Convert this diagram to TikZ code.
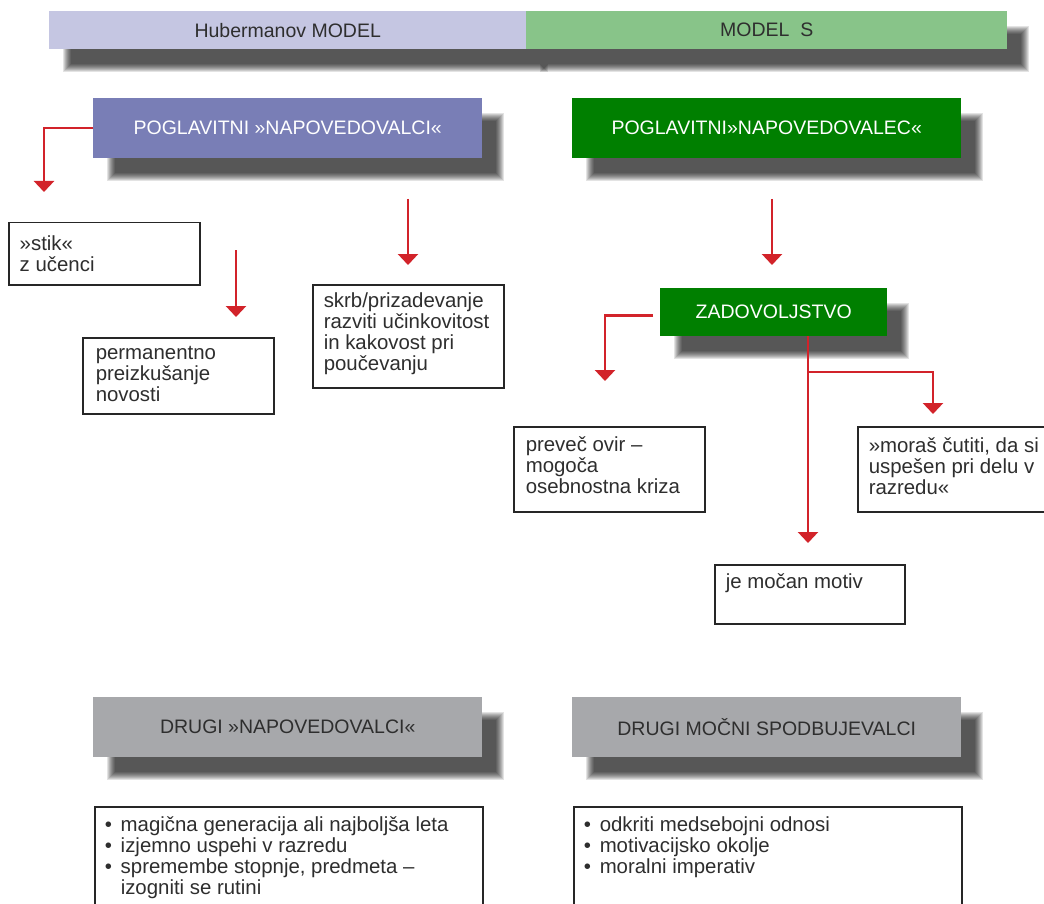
\documentclass[tikz,border=0pt]{standalone}
\usepackage{fontspec}
\setmainfont{Liberation Sans}
\usetikzlibrary{arrows.meta,calc}
\definecolor{lav}{HTML}{C5C6E2}
\definecolor{grn}{HTML}{88C489}
\definecolor{blu}{HTML}{797EB6}
\definecolor{dgr}{HTML}{007F00}
\definecolor{gry}{HTML}{A7A8AB}
\definecolor{arr}{HTML}{D2232A}
\definecolor{txt}{HTML}{2E2E2E}
\definecolor{boxc}{HTML}{262626}
\newcommand\bodyfont{\fontsize{20.4pt}{20.8pt}\selectfont}
\newcommand\hdrfont{\fontsize{19.5pt}{22pt}\selectfont}
\newcommand\bx[3]{\parbox[c][#2][t]{#1}{\raggedright\rule{0pt}{16pt}#3}}
\newcommand\bul{\makebox[16pt][l]{\textbullet}}
\pgfdeclarelayer{bg}
\pgfsetlayers{bg,main}
\newcommand\shadowof[1]{%
  \begin{pgfonlayer}{bg}
  \foreach \k in {0,...,8}{%
    \fill[black,opacity=0.11] ($(#1.north west)+(14+\k,15+\k)$) rectangle ($(#1.south east)+(22-\k,23-\k)$);}
  \end{pgfonlayer}}
\begin{document}
\begin{tikzpicture}[x=1pt,y=-1pt,
  hdr/.style={anchor=north west,inner sep=0pt,font=\hdrfont},
  wbox/.style={draw=boxc,line width=1.5pt,fill=white,anchor=north west,inner xsep=11pt,text=txt,font=\bodyfont},
  arw/.style={draw=arr,line width=2.6pt,-{Triangle[width=20pt,length=11pt]}}]
\useasboundingbox (0,0) rectangle (1044,904);
\begin{pgfonlayer}{bg}
\fill[white] (0,0) rectangle (1044,904);
\end{pgfonlayer}

% top banner
\node[hdr,fill=lav,text=txt,minimum width=477pt,minimum height=38pt] (hub) at (49,11) {Hubermanov MODEL};
\node[hdr,fill=grn,text=txt,minimum width=481pt,minimum height=38pt] (mods) at (526,11) {MODEL\ \ S};

% headers
\node[hdr,fill=blu,text=white,minimum width=389pt,minimum height=60pt] (pn) at (93,98) {POGLAVITNI »NAPOVEDOVALCI«};
\node[hdr,fill=dgr,text=white,minimum width=389pt,minimum height=60pt] (pg) at (572,98) {POGLAVITNI»NAPOVEDOVALEC«};
\node[hdr,fill=dgr,text=white,minimum width=227pt,minimum height=48pt] (zad) at (660,288) {ZADOVOLJSTVO};
\node[hdr,fill=gry,text=txt,minimum width=389pt,minimum height=60pt] (dn) at (93,697) {DRUGI »NAPOVEDOVALCI«};
\node[hdr,fill=gry,text=txt,minimum width=389pt,minimum height=60pt] (dm) at (572,697) {DRUGI MOČNI SPODBUJEVALCI};

\shadowof{hub}\shadowof{mods}\shadowof{pn}\shadowof{pg}\shadowof{zad}\shadowof{dn}\shadowof{dm}

% white boxes
\node[wbox,inner ysep=12pt] (stik) at (8,222) {\bx{169pt}{38pt}{»stik«\\z učenci}};
\node[wbox,inner xsep=13pt,inner ysep=6pt] (perm) at (82,337) {\bx{165pt}{64pt}{permanentno\\preizkušanje\\novosti}};
\node[wbox,inner ysep=7pt] (skrb) at (312,284) {\bx{169pt}{89pt}{skrb/prizadevanje\\razviti učinkovitost\\in kakovost pri\\poučevanju}};
\node[wbox,inner xsep=12pt,inner ysep=9pt] (prev) at (513,426) {\bx{167pt}{67pt}{preveč ovir –\\mogoča\\osebnostna kriza}};
\node[wbox,inner ysep=10pt] (moras) at (857,426) {\bx{178pt}{65pt}{»moraš čutiti, da si\\uspešen pri delu v\\razredu«}};
\node[wbox,inner ysep=8pt] (mocan) at (714,564) {\bx{168pt}{43pt}{je močan motiv}};
\node[wbox,inner xsep=10pt,inner ysep=9pt] (bl) at (94,806) {\bx{368pt}{102pt}{\bul magična generacija ali najboljša leta\\\bul izjemno uspehi v razredu\\\bul spremembe stopnje, predmeta –\\\hspace*{16pt}izogniti se rutini}};
\node[wbox,inner xsep=10pt,inner ysep=9pt] (br) at (573,806) {\bx{368pt}{102pt}{\bul odkriti medsebojni odnosi\\\bul motivacijsko okolje\\\bul moralni imperativ}};

% arrows
\coordinate (t1) at (44,192);
\draw[arw] (pn.west) -| (t1);
\coordinate (s2) at (236,250); \coordinate (t2) at (236,317);
\draw[arw] (s2) -- (t2);
\coordinate (s3) at (408,199); \coordinate (t3) at (408,265);
\draw[arw] (s3) -- (t3);
\coordinate (s4) at (772,199); \coordinate (t4) at (772,265);
\draw[arw] (s4) -- (t4);
\coordinate (s5) at ($(zad.west)+(-7,3)$); \coordinate (t5) at (605,381);
\draw[arw] (s5) -| (t5);
\coordinate (t6) at (808,543);
\draw[arw] (zad.south -| t6) -- (t6);
\coordinate (b7) at (808,372); \coordinate (t7) at (933,414);
\draw[arw] (b7) -| (t7);
\end{tikzpicture}
\end{document}
